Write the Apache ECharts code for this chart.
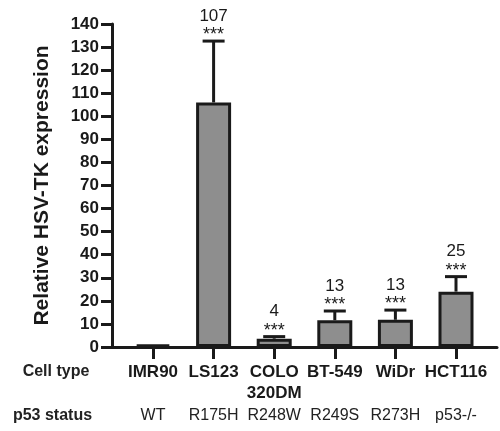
<!DOCTYPE html>
<html>
<head>
<meta charset="utf-8">
<script src="https://cdn.jsdelivr.net/npm/echarts@6/dist/echarts.min.js"></script>
<style>
  html, body { margin: 0; padding: 0; background: #fff; }
  #chart { width: 500px; height: 431px; }
</style>
</head>
<body>
<div id="chart"></div>
<script>
// cell lines and their p53 status
const cellTypes = ['IMR90', 'LS123', 'COLO\n320DM', 'BT-549', 'WiDr', 'HCT116'];
const p53Status = ['WT', 'R175H', 'R248W', 'R249S', 'R273H', 'p53-/-'];
// relative HSV-TK expression (mean) and upper error (SD)
const expression = [1, 106, 3.6, 11.6, 11.8, 24];
const errorUp = [0, 26.6, 0.9, 4, 4.2, 6.5];
// annotations above each bar
const foldLabels = ['', '107', '4', '13', '13', '25'];
const stars = ['', '***', '***', '***', '***', '***'];

const FONT = '"Liberation Sans", Arial, Helvetica, sans-serif';
const INK = '#1a1a1a';

const chart = echarts.init(document.getElementById('chart'));

const errData = expression.map((v, i) => [i, v, errorUp[i]]);

const option = {
  animation: false,
  backgroundColor: '#fff',
  grid: [
    // frame: y axis + long x axis line
    { left: 112, right: 3, top: 24, bottom: 84 },
    // bars
    { left: 122.7, right: 13.7, top: 24, bottom: 84 }
  ],
  xAxis: [
    {
      gridIndex: 0, type: 'value', min: 0, max: 1,
      axisLine: { show: true, lineStyle: { color: INK, width: 3 } },
      axisTick: { show: false }, axisLabel: { show: false }, splitLine: { show: false }
    },
    {
      gridIndex: 1, type: 'category', data: cellTypes, position: 'bottom',
      axisLine: { show: false },
      axisTick: { show: true, alignWithLabel: true, length: 12, lineStyle: { color: INK, width: 3 } },
      axisLabel: {
        margin: 15, color: INK, fontFamily: FONT, fontWeight: 'bold', fontSize: 17,
        lineHeight: 21, interval: 0, verticalAlign: 'top'
      }
    },
    {
      gridIndex: 1, type: 'category', data: p53Status, position: 'bottom',
      axisLine: { show: false }, axisTick: { show: false },
      axisLabel: { margin: 61, color: '#222', fontFamily: FONT, fontSize: 16, interval: 0, verticalAlign: 'top' }
    }
  ],
  yAxis: [
    {
      gridIndex: 0, type: 'value', min: 0, max: 140, interval: 10,
      name: 'Relative HSV-TK expression', nameLocation: 'middle', nameGap: 59,
      nameTextStyle: { color: INK, fontFamily: FONT, fontWeight: 'bold', fontSize: 21 },
      axisLine: { show: true, lineStyle: { color: INK, width: 3 } },
      axisTick: { show: true, length: 11, lineStyle: { color: INK, width: 3 } },
      axisLabel: { margin: 13, color: INK, fontFamily: FONT, fontWeight: 'bold', fontSize: 17 },
      splitLine: { show: false }
    },
    {
      gridIndex: 1, type: 'value', min: 0, max: 140, show: false
    }
  ],
  graphic: [
    { type: 'text', x: 56, y: 372, style: { text: 'Cell type', align: 'center', verticalAlign: 'middle', font: 'bold 16px ' + FONT, fill: '#222' } },
    { type: 'text', x: 52.5, y: 416, style: { text: 'p53 status', align: 'center', verticalAlign: 'middle', font: 'bold 16px ' + FONT, fill: '#222' } }
  ],
  series: [
    {
      type: 'bar', xAxisIndex: 1, yAxisIndex: 1, data: expression, barWidth: 35,
      itemStyle: { color: '#8e8e8e', borderColor: INK, borderWidth: 3 }
    },
    {
      type: 'custom', xAxisIndex: 1, yAxisIndex: 1, data: errData, z: 3,
      renderItem: function (params, api) {
        const i = api.value(0);
        const mean = api.value(1);
        const sd = api.value(2);
        const base = api.coord([i, mean]);
        const top = api.coord([i, mean + sd]);
        const lineStyle = { stroke: INK, lineWidth: 3 };
        const children = [];
        if (sd > 0) {
          children.push({ type: 'line', shape: { x1: top[0], y1: base[1], x2: top[0], y2: top[1] }, style: lineStyle });
          children.push({ type: 'line', shape: { x1: top[0] - 11, y1: top[1], x2: top[0] + 11, y2: top[1] }, style: lineStyle });
        }
        const lab = foldLabels[params.dataIndex];
        const st = stars[params.dataIndex];
        if (lab) {
          children.push({ type: 'text', style: { text: lab, x: top[0], y: top[1] - 25, align: 'center', verticalAlign: 'middle', font: '17px ' + FONT, fill: INK } });
        }
        if (st) {
          children.push({ type: 'text', style: { text: st, x: top[0], y: top[1] - 6, align: 'center', verticalAlign: 'middle', font: '18px ' + FONT, fill: INK } });
        }
        return { type: 'group', children: children };
      }
    }
  ]
};

chart.setOption(option);
</script>
</body>
</html>
